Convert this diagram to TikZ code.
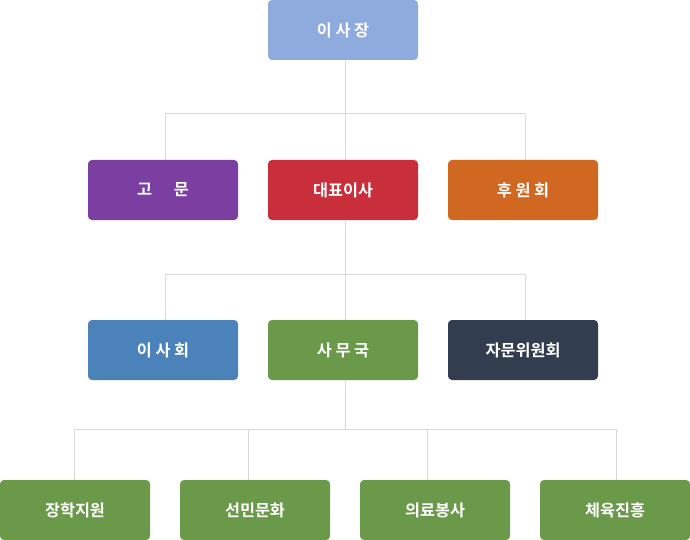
\documentclass[tikz,border=0pt]{standalone}
\usepackage{fontspec}
\newfontfamily\krfont{Noto Sans CJK KR}[BoldFont={Noto Sans CJK KR Bold}]
\usepackage{xcolor}
\definecolor{boardblue}{HTML}{8FAADC}
\definecolor{advpurple}{HTML}{7B3FA1}
\definecolor{ceored}{HTML}{C92E3B}
\definecolor{suporange}{HTML}{D06822}
\definecolor{dirblue}{HTML}{4C82BA}
\definecolor{offgreen}{HTML}{6A994A}
\definecolor{cmtnavy}{HTML}{333D50}
\definecolor{linegray}{HTML}{D9D9D9}

\begin{document}
\begin{tikzpicture}[x=1pt,y=-1pt,
  orgbox/.style={rounded corners=4pt, minimum width=150pt, minimum height=60pt, inner sep=0pt,
    text=white, font=\krfont\bfseries\fontsize{16.3}{18}\selectfont},
  conn/.style={draw=linegray, line width=1pt}]
\useasboundingbox (0,0) rectangle (690,540);

% level 0
\node[orgbox, fill=boardblue] (chair) at (343,30) {이 사 장};

% level 1
\node[orgbox, fill=advpurple] (advisor) at (163,190) {고\hspace{22pt}문};
\node[orgbox, fill=ceored] (ceo) at (343,190) {대표이사};
\node[orgbox, fill=suporange] (support) at (523,190) {후 원 회};

% level 2
\node[orgbox, fill=dirblue] (board) at (163,350) {이 사 회};
\node[orgbox, fill=offgreen] (office) at (343,350) {사 무 국};
\node[orgbox, fill=cmtnavy] (committee) at (523,350) {자문위원회};

% level 3
\node[orgbox, fill=offgreen] (scholar) at (75,510) {장학지원};
\node[orgbox, fill=offgreen] (culture) at (255,510) {선민문화};
\node[orgbox, fill=offgreen] (medical) at (435,510) {의료봉사};
\node[orgbox, fill=offgreen] (sports) at (615,510) {체육진흥};

% branch points
\coordinate (t1) at (345,114);
\coordinate (l1) at (165,114);
\coordinate (r1) at (525,114);
\coordinate (t2) at (345,274);
\coordinate (l2) at (165,274);
\coordinate (r2) at (525,274);
\coordinate (t3) at (345,429);
\coordinate (a3) at (74,429);
\coordinate (b3) at (248,429);
\coordinate (c3) at (427,429);
\coordinate (d3) at (616,429);

\draw[conn] (chair.south -| t1) -- (t1);
\draw[conn] (l1) -- (r1);
\draw[conn] (l1) -- (l1 |- advisor.north);
\draw[conn] (t1) -- (t1 |- ceo.north);
\draw[conn] (r1) -- (r1 |- support.north);

\draw[conn] (ceo.south -| t2) -- (t2);
\draw[conn] (l2) -- (r2);
\draw[conn] (l2) -- (l2 |- board.north);
\draw[conn] (t2) -- (t2 |- office.north);
\draw[conn] (r2) -- (r2 |- committee.north);

\draw[conn] (office.south -| t3) -- (t3);
\draw[conn] (a3) -- (d3);
\draw[conn] (a3) -- (a3 |- scholar.north);
\draw[conn] (b3) -- (b3 |- culture.north);
\draw[conn] (c3) -- (c3 |- medical.north);
\draw[conn] (d3) -- (d3 |- sports.north);
\end{tikzpicture}
\end{document}
